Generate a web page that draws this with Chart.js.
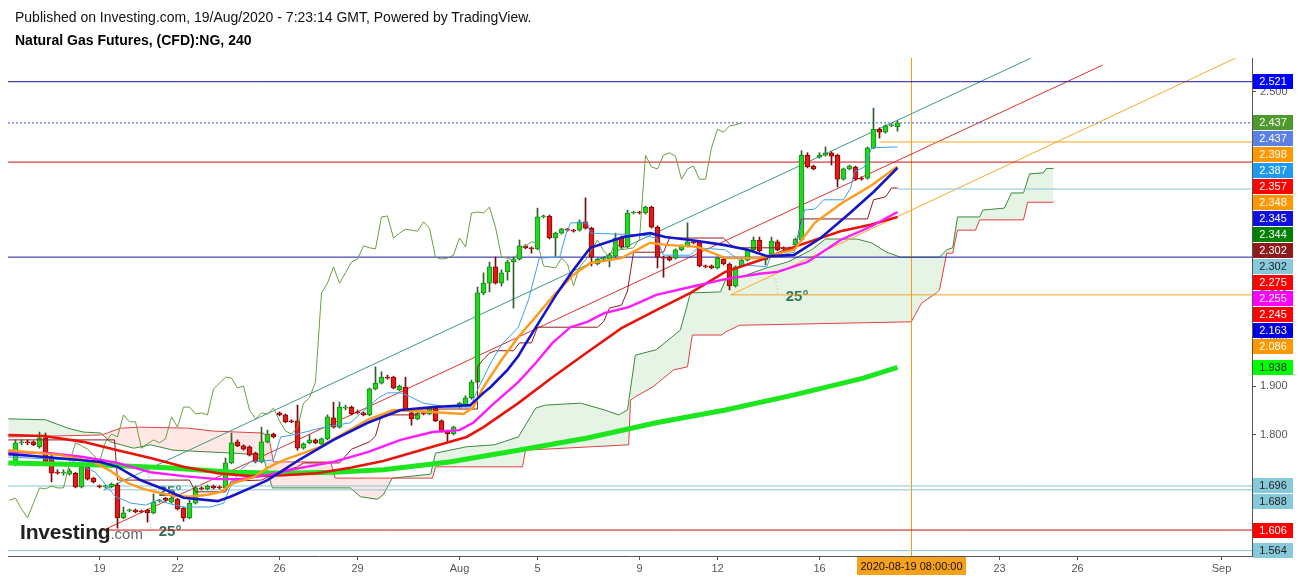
<!DOCTYPE html>
<html>
<head>
<meta charset="utf-8">
<title>Natural Gas Futures, (CFD):NG, 240</title>
<script src="https://cdn.jsdelivr.net/npm/chart.js@4"></script>
<style>
  html, body { margin: 0; padding: 0; background: #fff; }
  #quadro { position: relative; width: 1299px; height: 580px; overflow: hidden; font-family: "Liberation Sans", Arial, sans-serif; }
  #grafico { position: absolute; left: 0; top: 0; }
  .linha1 { position: absolute; left: 15px; top: 9px; font-size: 14px; line-height: 16px; color: #111; white-space: nowrap; }
  .linha2 { position: absolute; left: 15px; top: 32px; font-size: 14px; line-height: 16px; font-weight: bold; color: #000; white-space: nowrap; }
  .logo { position: absolute; left: 20px; top: 521px; line-height: 22px; white-space: nowrap; }
  .logo b { font-size: 21px; color: #222; letter-spacing: -0.2px; }
  .logo span { font-size: 15px; color: #666; }
</style>
</head>
<body>
<div id="quadro">
  <canvas id="grafico" width="1299" height="580"></canvas>
  <div class="linha1">Published on Investing.com, 19/Aug/2020 - 7:23:14 GMT, Powered by TradingView.</div>
  <div class="linha2">Natural Gas Futures, (CFD):NG, 240</div>
  <div class="logo"><b>Investing</b><span>.com</span></div>
</div>
<script>
// velas de 4h (indice 0 = primeira vela visivel)
const abertura = [1.743,1.784,1.786,1.786,1.776,1.794,1.755,1.724,1.722,1.720,1.722,1.694,1.735,1.712,1.696,1.694,1.694,1.698,1.631,1.645,
  1.647,1.645,1.647,1.641,1.665,1.671,1.663,1.669,1.651,1.631,1.661,1.692,1.690,1.696,1.694,1.692,1.743,1.786,1.778,1.776,
  1.763,1.745,1.786,1.802,1.845,1.841,1.829,1.829,1.773,1.784,1.790,1.782,1.792,1.835,1.816,1.855,1.857,1.847,1.845,1.841,
  1.894,1.906,1.918,1.918,1.892,1.898,1.845,1.833,1.845,1.843,1.855,1.829,1.808,1.802,1.857,1.861,1.876,1.908,2.090,2.110,
  2.143,2.110,2.133,2.153,2.159,2.186,2.182,2.180,2.245,2.247,2.202,2.212,2.220,2.218,2.218,2.235,2.222,2.149,2.159,2.159,
  2.165,2.202,2.184,2.253,2.255,2.253,2.265,2.224,2.163,2.163,2.161,2.178,2.186,2.194,2.194,2.145,2.145,2.141,2.159,2.149,
  2.104,2.145,2.157,2.178,2.198,2.157,2.169,2.194,2.182,2.180,2.188,2.198,2.371,2.349,2.367,2.371,2.376,2.371,2.322,2.343,
  2.347,2.324,2.324,2.386,2.424,2.418,2.431,2.429];
const maxima = [1.790,1.790,1.790,1.788,1.806,1.804,1.759,1.729,1.729,1.731,1.724,1.739,1.737,1.714,1.698,1.698,1.702,1.702,1.653,1.649,
  1.649,1.647,1.649,1.680,1.669,1.673,1.676,1.671,1.653,1.667,1.696,1.694,1.698,1.698,1.696,1.753,1.804,1.790,1.780,1.778,
  1.765,1.816,1.810,1.804,1.847,1.843,1.831,1.861,1.784,1.800,1.792,1.794,1.841,1.867,1.867,1.861,1.859,1.851,1.847,1.896,
  1.939,1.929,1.922,1.920,1.902,1.918,1.847,1.847,1.847,1.857,1.857,1.831,1.810,1.818,1.867,1.880,1.912,2.102,2.131,2.153,
  2.163,2.137,2.157,2.163,2.198,2.188,2.184,2.263,2.249,2.249,2.214,2.222,2.222,2.220,2.239,2.284,2.224,2.161,2.163,2.171,
  2.212,2.206,2.259,2.257,2.257,2.267,2.267,2.227,2.165,2.165,2.180,2.188,2.233,2.196,2.196,2.147,2.147,2.163,2.161,2.151,
  2.145,2.159,2.180,2.204,2.204,2.165,2.204,2.198,2.184,2.184,2.202,2.380,2.376,2.351,2.376,2.388,2.378,2.373,2.345,2.351,
  2.349,2.327,2.388,2.467,2.427,2.433,2.435,2.441];
const minima = [1.737,1.780,1.780,1.778,1.773,1.737,1.704,1.720,1.718,1.718,1.692,1.692,1.708,1.702,1.692,1.692,1.692,1.610,1.629,1.643,
  1.641,1.641,1.622,1.639,1.663,1.665,1.661,1.647,1.624,1.629,1.659,1.688,1.688,1.690,1.690,1.690,1.741,1.776,1.769,1.757,
  1.743,1.743,1.784,1.794,1.839,1.825,1.825,1.769,1.771,1.782,1.782,1.780,1.790,1.814,1.814,1.851,1.841,1.843,1.839,1.839,
  1.892,1.904,1.914,1.894,1.890,1.849,1.820,1.831,1.841,1.841,1.827,1.806,1.784,1.800,1.855,1.859,1.873,1.906,2.086,2.092,
  2.108,2.104,2.116,2.059,2.157,2.180,2.171,2.178,2.243,2.200,2.165,2.210,2.216,2.214,2.216,2.220,2.145,2.147,2.157,2.143,
  2.163,2.182,2.182,2.251,2.251,2.251,2.222,2.141,2.122,2.155,2.159,2.176,2.184,2.190,2.143,2.141,2.139,2.139,2.147,2.096,
  2.102,2.143,2.155,2.176,2.173,2.147,2.167,2.176,2.178,2.178,2.186,2.196,2.345,2.341,2.365,2.369,2.351,2.306,2.320,2.341,
  2.320,2.320,2.322,2.384,2.406,2.416,2.429,2.420];
const fechamento = [1.784,1.786,1.784,1.780,1.794,1.739,1.722,1.722,1.724,1.727,1.694,1.735,1.710,1.704,1.694,1.696,1.700,1.631,1.641,1.647,
  1.643,1.643,1.641,1.663,1.667,1.667,1.671,1.649,1.631,1.661,1.692,1.690,1.696,1.692,1.692,1.743,1.784,1.778,1.771,1.759,
  1.745,1.786,1.802,1.796,1.841,1.827,1.827,1.773,1.782,1.790,1.784,1.792,1.837,1.816,1.857,1.857,1.843,1.845,1.841,1.894,
  1.906,1.918,1.916,1.896,1.900,1.851,1.833,1.845,1.843,1.855,1.829,1.808,1.802,1.816,1.865,1.876,1.908,2.090,2.110,2.143,
  2.110,2.131,2.153,2.159,2.186,2.182,2.180,2.245,2.247,2.202,2.212,2.220,2.218,2.216,2.235,2.222,2.163,2.159,2.161,2.167,
  2.202,2.184,2.253,2.255,2.253,2.265,2.224,2.163,2.161,2.157,2.178,2.186,2.194,2.192,2.145,2.143,2.141,2.161,2.149,2.104,
  2.143,2.157,2.178,2.198,2.176,2.163,2.196,2.178,2.180,2.182,2.200,2.371,2.347,2.343,2.371,2.376,2.369,2.322,2.343,2.349,
  2.322,2.322,2.386,2.424,2.418,2.431,2.433,2.437];

// medias moveis: [indice, valor]
const mediaAzul = [[-1.2,1.761],[3,1.757],[8.7,1.751],[14.2,1.745],[17,1.735],[20.8,1.708],[24.2,1.692],[28,1.672],[33.7,1.665],[35.8,1.674],
  [39.2,1.692],[42,1.708],[44.7,1.729],[47.5,1.751],[53,1.790],[58.7,1.825],[64.2,1.851],[69.7,1.857],[75.8,1.861],[78,1.886],[79.2,1.898],
  [82,1.933],[83.8,1.961],[84.7,1.980],[87.5,2.035],[90.3,2.090],[93,2.137],[95.8,2.182],[101.3,2.204],[105.8,2.212],[108.3,2.204],
  [112.5,2.198],[118,2.188],[122,2.178],[125.3,2.165],[129.7,2.167],[134.2,2.202],[138.7,2.249],[143,2.296],[147,2.345]];
const mediaLaranja = [[-1.2,1.769],[7.5,1.759],[13,1.745],[15.8,1.727],[18.7,1.702],[21.3,1.690],[25.3,1.678],[28.7,1.674],[32,1.678],
  [34.2,1.684],[36.3,1.702],[39.7,1.714],[42,1.733],[44.7,1.749],[47.5,1.761],[50.8,1.776],[58.7,1.831],[63,1.851],[69.5,1.847],
  [74.7,1.843],[76.3,1.857],[78,1.898],[81,1.953],[83.8,2.000],[86.7,2.041],[89.5,2.082],[93,2.127],[95.8,2.151],[101,2.161],
  [105.7,2.192],[108.5,2.188],[113.7,2.184],[118.3,2.161],[124,2.161],[129.8,2.178],[133.2,2.233],[137.8,2.274],[142.5,2.308],[147,2.348]];
const mediaMagenta = [[-1.2,1.765],[5.8,1.763],[11.3,1.755],[17,1.743],[22.5,1.724],[28,1.716],[33.7,1.710],[37.5,1.710],[42,1.718],
  [47.5,1.733],[53,1.745],[58.7,1.765],[64.2,1.790],[69.5,1.806],[74,1.810],[76.3,1.825],[79.8,1.865],[83.8,1.908],[86.7,1.947],
  [89.5,1.988],[92.5,2.020],[95.3,2.031],[98.2,2.049],[102.2,2.061],[106.8,2.086],[112.5,2.102],[118.3,2.118],[124,2.129],[127,2.133],
  [132,2.153],[137.5,2.198],[142.5,2.225],[147,2.255]];
const mediaVermelha = [[-1.2,1.800],[4.7,1.798],[11.3,1.786],[17,1.769],[22.5,1.753],[28,1.735],[33.7,1.722],[39.2,1.716],[44.7,1.718],
  [50.3,1.722],[55.8,1.733],[61.3,1.747],[69.5,1.776],[75.2,1.796],[78,1.816],[83.8,1.865],[89.5,1.918],[95.3,1.969],[101,2.018],
  [106.8,2.055],[112.5,2.090],[118.3,2.133],[124.2,2.157],[130.3,2.186],[137.5,2.216],[142.5,2.229],[147,2.245]];
const mediaVerde = [[-1.2,1.743],[14.2,1.739],[25.3,1.733],[36.3,1.724],[44.7,1.722],[53,1.724],[61.3,1.729],[72.3,1.745],[83.8,1.769],
  [95.3,1.794],[106.8,1.825],[118.3,1.851],[129.8,1.882],[141.3,1.916],[147,1.938]];

// ichimoku
const tenkan = [[-1.2,1.755],[9.2,1.749],[13.3,1.724],[16.7,1.674],[19.2,1.661],[21.7,1.657],[23.7,1.667],[25.3,1.661],[28,1.653],
  [32.5,1.653],[34.7,1.661],[35.8,1.694],[37.5,1.729],[39.2,1.745],[43,1.749],[44.2,1.796],[47,1.802],[50.8,1.814],[55.8,1.825],
  [60.5,1.876],[62,1.886],[64.2,1.886],[65.8,1.878],[68,1.865],[72,1.857],[75.8,1.857],[77,1.892],[79.2,1.947],[81,1.984],[83.8,2.020],
  [85.5,2.076],[87.3,2.161],[90.7,2.163],[91.8,2.212],[92.5,2.233],[95.3,2.233],[95.8,2.212],[104.5,2.208],[106.8,2.202],[108,2.167],
  [112.5,2.167],[113.7,2.182],[118.3,2.178],[121.7,2.147],[125.2,2.143],[125.8,2.163],[129.8,2.173],[131.5,2.259],[133.2,2.261],
  [134.7,2.280],[138,2.280],[139.2,2.304],[139.8,2.337],[141.5,2.347],[142.7,2.386],[147,2.388]];
const kijun = [[-1.2,1.790],[16.5,1.790],[17,1.708],[29,1.708],[30,1.684],[35,1.684],[36,1.706],[41,1.708],[42,1.714],[44,1.724],
  [47,1.735],[48,1.743],[54,1.743],[55,1.757],[56,1.771],[59,1.786],[60,1.798],[61,1.841],[67,1.841],[67,1.853],[77,1.853],[77,1.939],
  [78,1.955],[79,1.967],[80,1.972],[83,1.972],[84,1.988],[86,1.988],[87,2.020],[97,2.020],[98,2.031],[99,2.059],[101,2.065],[102,2.094],
  [103,2.173],[108,2.173],[109,2.202],[118,2.202],[119,2.190],[120,2.182],[130,2.182],[131,2.241],[142,2.241],[143,2.280],[145,2.286],
  [146,2.304],[147,2.304]];
const senkouA = [[-1.2,1.833],[5,1.831],[8.7,1.814],[11.3,1.806],[14.2,1.804],[15.8,1.786],[19.7,1.773],[22.5,1.780],[26.3,1.769],
  [36.3,1.763],[41.2,1.759],[42.8,1.692],[55.8,1.692],[57.5,1.674],[60.3,1.669],[61.3,1.678],[62.8,1.712],[69.2,1.720],[70,1.763],
  [75.2,1.776],[79.8,1.780],[83.8,1.796],[86.7,1.855],[88.3,1.861],[94.2,1.865],[98.2,1.851],[100.5,1.841],[102,1.851],[103.3,1.963],
  [106.8,1.974],[110.8,2.014],[112.5,2.090],[117.5,2.092],[118.3,2.116],[120.7,2.122],[125.2,2.141],[128.7,2.153],[132.7,2.178],
  [135,2.200],[140.2,2.200],[142.7,2.192],[145.2,2.173],[147.5,2.163],[154,2.163],[155.2,2.178],[156.2,2.182],[157,2.245],[160.7,2.245],
  [161.2,2.259],[164.8,2.263],[166,2.294],[168,2.294],[169,2.333],[171.3,2.335],[171.8,2.344],[173,2.344]];
const senkouB = [[-1.2,1.796],[14.2,1.800],[15.3,1.804],[17.5,1.814],[20.8,1.816],[28.7,1.814],[33,1.808],[41.2,1.804],[42.2,1.796],
  [43,1.745],[52.5,1.745],[53.3,1.712],[69.5,1.712],[70,1.735],[84.5,1.735],[85,1.769],[102.2,1.780],[102.5,1.871],[103.3,1.878],
  [106.2,1.898],[109.7,1.933],[112,1.939],[112.8,2.004],[117.7,2.004],[118.3,2.010],[120.7,2.024],[149.3,2.031],[151,2.069],[153.5,2.090],
  [154,2.096],[155.2,2.171],[156.2,2.171],[157,2.218],[160,2.218],[160.7,2.239],[168,2.239],[168.7,2.275],[173,2.275]];

// desenhos: linhas de angulo e niveis horizontais
const anguloTeal = [[14.7,1.688],[169.2,2.569]];
const anguloVermelho = [[14.7,1.606],[181.2,2.555]];
const anguloLaranja = [[119.2,2.086],[203.3,2.569]];
const niveis = [2.521, 2.437, 2.398, 2.357, 2.302, 2.163, 1.696, 1.564];

// eixos
const yTicks = [1.6, 1.7, 1.8, 1.9, 2.0, 2.1, 2.2, 2.3, 2.4, 2.5];
const xTicksIdx = [14, 27, 44, 57, 74, 87, 104, 117, 134, 164, 177, 201];
const xTicksRotulo = ["19", "22", "26", "29", "Aug", "5", "9", "12", "16", "23", "26", "Sep"];
const cruzIdx = 149.33;
const cruzRotulo = "2020-08-19 08:00:00";

// etiquetas do eixo de precos
const etiquetasValor = [2.521, 2.437, 2.437, 2.398, 2.387, 2.357, 2.348, 2.345, 2.344, 2.302, 2.302, 2.275, 2.255, 2.245, 2.163, 2.086, 1.938, 1.696, 1.688, 1.606, 1.564];
const etiquetasCor = ["#0000ff", "#4e9a2c", "#5b80e6", "#ff9800", "#1e9bf0", "#ff0000", "#ff9800", "#1010e0", "#008000", "#8e1b1b",
  "#86c9d9", "#ff0000", "#ff00ff", "#ff0000", "#0000e0", "#ff9800", "#00ff00", "#86c9d9", "#86c9d9", "#ff0000", "#86c9d9"];

const X_MIN = (8 - 15.5) / 6;
const X_MAX = (1252 - 15.5) / 6;
const Y_MIN = 2.5 - 464 / 490;
const Y_MAX = 2.5 + 34 / 490;
const FONTE = '"Liberation Sans", Arial, sans-serif';

function pontos(lista) {
  return lista.map(p => ({ x: p[0], y: p[1] }));
}

function linha(lista, cor, largura, ordem, extra) {
  return Object.assign({
    type: "line",
    data: pontos(lista),
    borderColor: cor,
    borderWidth: largura,
    pointRadius: 0,
    fill: false,
    tension: 0,
    order: ordem
  }, extra || {});
}

function montarDatasets() {
  const ds = [];
  const sobe = fechamento.map((c, i) => c >= abertura[i]);

  // medias
  ds.push(linha(mediaAzul, "#1515c8", 2.6, 1));
  ds.push(linha(mediaLaranja, "#ff9a1a", 2.4, 1));
  ds.push(linha(mediaMagenta, "#ff1aff", 2.4, 1));
  ds.push(linha(mediaVermelha, "#e8140c", 2.6, 1));
  ds.push(linha(mediaVerde, "#1ee61e", 5, 1));

  // ichimoku linhas
  ds.push(linha(tenkan, "#3d9fe6", 1, 2));
  ds.push(linha(kijun, "#8e1b1b", 1, 2));
  const chikou = fechamento.slice(25).map((c, k) => [k - 1, c]);
  ds.push(linha(chikou, "#6a9f3c", 1, 2));

  // velas
  ds.push({
    type: "bar",
    data: abertura.map((o, i) => ({ x: i, y: [o, fechamento[i]] })),
    backgroundColor: sobe.map(s => s ? "#22d622" : "#e01b1b"),
    borderColor: sobe.map(s => s ? "#158a15" : "#8b0000"),
    borderWidth: 1,
    borderSkipped: false,
    barThickness: 5,
    minBarLength: 1,
    grouped: false,
    order: 3
  });
  ds.push({
    type: "bar",
    data: maxima.map((h, i) => ({ x: i, y: [minima[i], h] })),
    backgroundColor: sobe.map(s => s ? "#2f5f2f" : "#7a0a0a"),
    barThickness: 1,
    grouped: false,
    order: 4
  });

  // niveis horizontais
  const estilo = {
    2.521: { de: X_MIN, cor: "#1a1aa8" },
    2.437: { de: X_MIN, cor: "#3356c8", traco: [2, 2] },
    2.398: { de: 144, cor: "#f5a623" },
    2.357: { de: X_MIN, cor: "#cc1010" },
    2.302: { de: 147, cor: "#86c4d4" },
    2.163: { de: X_MIN, cor: "#1a1aa8" },
    1.696: { de: X_MIN, cor: "#86c4d4" },
    1.564: { de: X_MIN, cor: "#86c4d4" }
  };
  niveis.forEach(v => {
    const e = estilo[v];
    ds.push(linha([[e.de, v], [X_MAX, v]], e.cor, 1, 5, e.traco ? { borderDash: e.traco } : {}));
  });

  // linhas de angulo com a sua base horizontal
  [[anguloTeal, "#3a9a8a", "#86c4d4"], [anguloVermelho, "#e03030", "#cc1010"], [anguloLaranja, "#ffa726", "#f5a623"]].forEach(a => {
    ds.push(linha(a[0], a[1], 1, 5));
    ds.push(linha([a[0][0], [X_MAX, a[0][0][1]]], a[2], 1, 5));
  });

  // cursor vertical
  ds.push(linha([[cruzIdx, Y_MIN], [cruzIdx, Y_MAX]], "#f39c12", 1, 5));

  // nuvem
  const idxB = ds.length;
  ds.push(linha(senkouB, "#e04040", 1, 6));
  ds.push(linha(senkouA, "#3a8a3a", 1, 6, {
    fill: { target: idxB, above: "rgba(76,175,80,0.14)", below: "rgba(244,67,54,0.13)" }
  }));
  return ds;
}

const extras = {
  id: "extras",
  beforeDatasetsDraw(chart) {
    const { ctx, scales: { x, y } } = chart;
    ctx.save();
    [[anguloTeal, "#8cc8bf"], [anguloVermelho, "#f0a0a0"], [anguloLaranja, "#f5c27a"]].forEach(a => {
      const px = x.getPixelForValue(a[0][0][0]), py = y.getPixelForValue(a[0][0][1]);
      const qx = x.getPixelForValue(a[0][1][0]), qy = y.getPixelForValue(a[0][1][1]);
      const ang = Math.atan2(qy - py, qx - px);
      ctx.setLineDash([1.5, 2]);
      ctx.strokeStyle = a[1];
      ctx.lineWidth = 1;
      ctx.beginPath();
      ctx.arc(px, py, 47, ang, 0);
      ctx.stroke();
      ctx.setLineDash([]);
      ctx.fillStyle = "#2b6e5c";
      ctx.font = "bold 15px " + FONTE;
      ctx.textBaseline = "middle";
      ctx.textAlign = "left";
      ctx.fillText(Math.round(-ang * 180 / Math.PI) + "°", px + 55, py + 2);
    });
    ctx.restore();
  },
  afterDraw(chart) {
    const { ctx, scales: { x, y }, chartArea } = chart;
    ctx.save();
    ctx.font = "11px " + FONTE;
    ctx.textAlign = "center";
    ctx.textBaseline = "middle";
    const esq = chartArea.right + 1;
    let anterior = -Infinity;
    etiquetasValor.forEach((v, i) => {
      const cy = Math.max(y.getPixelForValue(v), anterior + 16);
      anterior = cy;
      ctx.fillStyle = etiquetasCor[i];
      ctx.fillRect(esq, Math.round(cy - 7.5), 40, 15);
      const claro = etiquetasCor[i] === "#86c9d9" || etiquetasCor[i] === "#00ff00";
      ctx.fillStyle = claro ? "#222" : "#fff";
      ctx.fillText(v.toFixed(3), esq + 20, Math.round(cy - 7.5) + 8);
    });
    const cx = x.getPixelForValue(cruzIdx);
    ctx.fillStyle = "#f7a11a";
    ctx.fillRect(Math.round(cx - 54), chartArea.bottom + 1, 109, 18);
    ctx.fillStyle = "#111";
    ctx.fillText(cruzRotulo, cx, chartArea.bottom + 10.5);
    ctx.restore();
  }
};

function criarGrafico() {
  const ctx = document.getElementById("grafico");
  new Chart(ctx, {
    type: "line",
    data: { datasets: montarDatasets() },
    options: {
      responsive: false,
      animation: false,
      devicePixelRatio: 1,
      events: [],
      layout: { padding: { left: 8, top: 58, right: 0, bottom: 0 } },
      plugins: { legend: { display: false }, tooltip: { enabled: false } },
      scales: {
        x: {
          type: "linear",
          min: X_MIN,
          max: X_MAX,
          offset: false,
          afterFit: s => { s.height = 24; },
          afterBuildTicks: s => { s.ticks = xTicksIdx.map(v => ({ value: v })); },
          grid: { offset: false, drawOnChartArea: false, drawTicks: true, tickLength: 4, color: "#555" },
          border: { display: true, color: "#555" },
          ticks: {
            autoSkip: false,
            maxRotation: 0,
            padding: 2,
            color: "#555",
            font: { family: FONTE, size: 11 },
            callback: (v, i) => xTicksRotulo[i]
          }
        },
        y: {
          type: "linear",
          position: "right",
          min: Y_MIN,
          max: Y_MAX,
          afterFit: s => { s.width = 47; },
          afterBuildTicks: s => { s.ticks = yTicks.map(v => ({ value: v })); },
          grid: { offset: false, drawOnChartArea: false, drawTicks: true, tickLength: 4, color: "#555" },
          border: { display: true, color: "#555" },
          ticks: {
            padding: 4,
            color: "#555",
            font: { family: FONTE, size: 11 },
            callback: v => Number(v).toFixed(3)
          }
        }
      }
    },
    plugins: [extras]
  });
}

document.addEventListener("DOMContentLoaded", criarGrafico);
</script>
</body>
</html>
